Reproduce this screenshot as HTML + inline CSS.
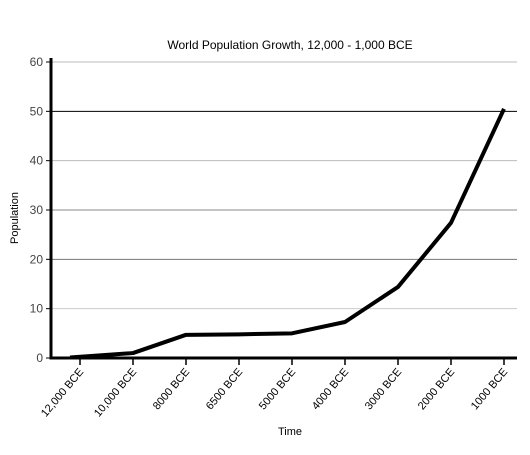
<!DOCTYPE html>
<html><head><meta charset="utf-8"><style>
body{margin:0;background:#fff;font-family:"Liberation Sans",sans-serif}
</style></head><body>
<svg width="530" height="450" xmlns="http://www.w3.org/2000/svg">
<rect width="530" height="450" fill="#fff"/>
<text x="290" y="49" text-anchor="middle" font-size="12">World Population Growth, 12,000 - 1,000 BCE</text>
<g id="grid"></g><g id="yaxis"></g><g id="xaxis"></g>
<path id="line" fill="none" stroke="#000" stroke-width="4" stroke-linejoin="round"/>
<line x1="51" y1="358" x2="517" y2="358" stroke="#000" stroke-width="3"/>
<line x1="51" y1="58" x2="51" y2="359.5" stroke="#000" stroke-width="3"/>
<text transform="translate(18,218) rotate(-90)" text-anchor="middle" font-size="11">Population</text>
<text x="290" y="435" text-anchor="middle" font-size="11">Time</text>
</svg>
<script>
const categories=["12,000 BCE","10,000 BCE","8000 BCE","6500 BCE","5000 BCE","4000 BCE","3000 BCE","2000 BCE","1000 BCE"];
const population=[0.1,1,4.7,4.8,5,7.3,14.4,27.4,50.5];
const yTicks=[0,10,20,30,40,50,60];
const gridColors=["#ccc","#ccc","#777","#888","#bbb","#000","#bbb"];
const NS="http://www.w3.org/2000/svg";
function x(i){return 80+i*53;}
function y(v){return 358-v*(296/60);}
function mk(t,a,p){const e=document.createElementNS(NS,t);for(const k in a)e.setAttribute(k,a[k]);p.appendChild(e);return e;}
const grid=document.getElementById('grid'),ya=document.getElementById('yaxis'),xa=document.getElementById('xaxis');
yTicks.forEach((v,i)=>{
 if(v>0){const g=mk('line',{x1:52,x2:517,y1:y(v),y2:y(v),stroke:gridColors[i],'stroke-width':1},grid);
 
 }
 const t=mk('line',{x1:46,x2:51,y1:y(v),y2:y(v),stroke:'#000','stroke-width':1},ya);
 
 
 const l=mk('text',{x:43,y:y(v)+4,'text-anchor':'end','font-size':12,fill:'#444'},ya);l.textContent=v;
 
 
});
categories.forEach((c,i)=>{
 const t=mk('line',{x1:x(i),x2:x(i),y1:359,y2:365,stroke:'#000','stroke-width':1.5},xa);
 
 
 const l=mk('text',{transform:`translate(${x(i)+4},${372}) rotate(-50)`,'text-anchor':'end','font-size':11},xa);l.textContent=c;
 
 
});
document.getElementById('line').setAttribute('d',population.map((v,i)=>(i?'L':'M')+(i==0?x(i)-10:x(i))+','+y(v)).join(''));
</script>
</body></html>
